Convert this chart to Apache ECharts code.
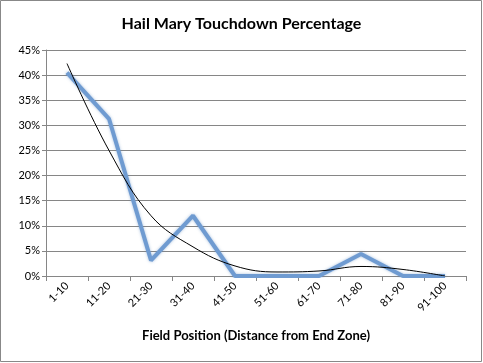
<!DOCTYPE html>
<html><head><meta charset="utf-8">
<script src="https://cdn.jsdelivr.net/npm/echarts@6/dist/echarts.min.js"></script>
<style>html,body{margin:0;padding:0;background:#fff}#c{width:483px;height:363px}</style>
</head><body><div id="c"></div>
<script>
const categories = ['1-10','11-20','21-30','31-40','41-50','51-60','61-70','71-80','81-90','91-100'];
const tdPct = [40.5, 31.3, 3.1, 12.0, 0, 0, 0, 4.4, 0, 0];
const trendPct = [42.3, 25.0, 12.0, 5.8, 2.0, 0.8, 1.0, 1.9, 1.3, 0];
const yTicks = [0, 5, 10, 15, 20, 25, 30, 35, 40, 45];

const chart = echarts.init(document.getElementById('c'));
chart.setOption({
  animation: false,
  backgroundColor: '#fff',
  title: {
    text: 'Hail Mary Touchdown Percentage',
    left: 'center', top: 11,
    textStyle: {fontFamily: 'Lato', fontWeight: 'bold', fontSize: 16, color: '#000'}
  },
  graphic: [{type: 'rect', shape: {x: 0.5, y: 0.5, width: 481, height: 361},
    style: {fill: 'none', stroke: '#888', lineWidth: 1}}],
  grid: {left: 46, right: 17, top: 50, bottom: 87},
  xAxis: {
    type: 'category', data: categories, boundaryGap: true,
    name: 'Field Position (Distance from End Zone)', nameLocation: 'middle', nameGap: 53,
    nameTextStyle: {fontFamily: 'Lato', fontWeight: 'bold', fontSize: 13, color: '#000'},
    axisLine: {lineStyle: {color: '#868686'}},
    axisTick: {show: true, length: 5, lineStyle: {color: '#868686'}},
    axisLabel: {rotate: 45, fontFamily: 'Lato', fontSize: 11, color: '#000', margin: 8}
  },
  yAxis: {
    type: 'value', min: 0, max: 45, interval: 5,
    axisLine: {show: true, lineStyle: {color: '#868686'}},
    axisTick: {show: true, length: 4, lineStyle: {color: '#868686'}},
    splitLine: {lineStyle: {color: '#868686'}},
    axisLabel: {formatter: v => yTicks.includes(v) ? v + '%' : '', fontFamily: 'Lato', fontSize: 11, color: '#000', margin: 6}
  },
  series: [
    {type: 'line', data: tdPct, symbol: 'none',
     lineStyle: {color: '#6f9bd1', width: 4, shadowColor: 'rgba(79,129,189,0.5)', shadowBlur: 3}},
    {type: 'line', data: trendPct, symbol: 'none', smooth: 0.4,
     lineStyle: {color: '#000', width: 1}}
  ]
});
</script></body></html>
